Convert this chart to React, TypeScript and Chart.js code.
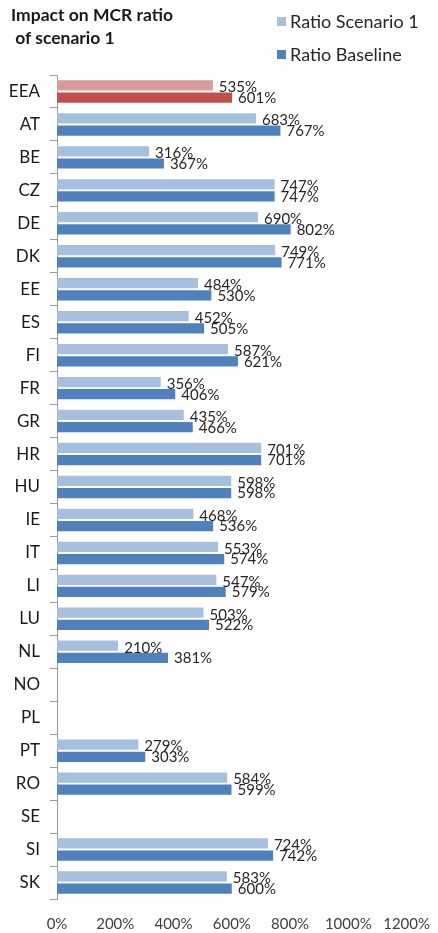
import React, { useEffect, useRef } from "react";
import { Chart, registerables } from "chart.js";

Chart.register(...registerables);

const categories = ["EEA", "AT", "BE", "CZ", "DE", "DK", "EE", "ES", "FI", "FR", "GR", "HR", "HU", "IE", "IT", "LI", "LU", "NL", "NO", "PL", "PT", "RO", "SE", "SI", "SK"];
const scenario1 = [535, 683, 316, 747, 690, 749, 484, 452, 587, 356, 435, 701, 598, 468, 553, 547, 503, 210, null, null, 279, 584, null, 724, 583];
const baseline = [601, 767, 367, 747, 802, 771, 530, 505, 621, 406, 466, 701, 598, 536, 574, 579, 522, 381, null, null, 303, 599, null, 742, 600];
const xTicks = [0, 200, 400, 600, 800, 1000, 1200];

const FONT = "Lato, 'Open Sans', sans-serif";
const LIGHT = "#a7bfde";
const DARK = "#4f81bd";
const LIGHT_RED = "#dc9a99";
const DARK_RED = "#c0504d";

const labelPlugin = {
  id: "valueLabels",
  afterDatasetsDraw(chart: any) {
    const ctx = chart.ctx;
    ctx.save();
    ctx.font = `15px ${FONT}`;
    ctx.fillStyle = "#262626";
    ctx.textAlign = "left";
    ctx.textBaseline = "middle";
    chart.data.datasets.forEach((ds: any, di: number) => {
      const meta = chart.getDatasetMeta(di);
      meta.data.forEach((bar: any, i: number) => {
        const v = ds.data[i];
        if (v === null || v === undefined) return;
        const yOff = di === 0 ? 2 : 0.5;
        ctx.fillText(`${v}%`, bar.x + 6, bar.y + yOff);
      });
    });
    ctx.restore();
  },
};

export default function App() {
  const ref = useRef<HTMLCanvasElement | null>(null);
  useEffect(() => {
    document.body.style.margin = "0";
    const c = ref.current!;
    const chart = new Chart(c, {
      type: "bar",
      data: {
        labels: categories,
        datasets: [
          {
            label: "Ratio Scenario 1",
            data: scenario1,
            backgroundColor: categories.map((_, i) => (i === 0 ? LIGHT_RED : LIGHT)),
            categoryPercentage: 0.74,
            barPercentage: 0.84,
          },
          {
            label: "Ratio Baseline",
            data: baseline,
            backgroundColor: categories.map((_, i) => (i === 0 ? DARK_RED : DARK)),
            categoryPercentage: 0.74,
            barPercentage: 0.84,
          },
        ],
      },
      options: {
        indexAxis: "y",
        animation: false,
        responsive: false,
        maintainAspectRatio: false,
        layout: { padding: { top: 75, right: 27, left: 0, bottom: 0 } },
        plugins: { legend: { display: false }, tooltip: { enabled: false }, title: { display: false } },
        scales: {
          x: {
            min: 0,
            max: 1200,
            afterBuildTicks: (axis: any) => {
              axis.ticks = xTicks.map((v) => ({ value: v }));
            },
            afterFit: (axis: any) => {
              axis.height = 34;
            },
            ticks: {
              callback: (v: any) => `${v}%`,
              font: { family: FONT, size: 15 },
              color: "#404040",
              padding: 8,
              maxRotation: 0,
            },
            grid: { display: false },
            border: { display: false },
          },
          y: {
            afterFit: (axis: any) => {
              axis.width = 57;
            },
            ticks: {
              font: { family: FONT, size: 17 },
              color: "#1a1a1a",
              padding: 10,
            },
            grid: {
              display: true,
              offset: true,
              drawOnChartArea: false,
              drawTicks: true,
              tickLength: 7,
              color: "#9a9a9a",
            },
            border: { display: true, color: "#9a9a9a", width: 1 },
          },
        },
      },
      plugins: [labelPlugin],
    });
    return () => chart.destroy();
  }, []);

  const legend = [
    { label: "Ratio Scenario 1", color: LIGHT, top: 10 },
    { label: "Ratio Baseline", color: DARK, top: 43 },
  ];

  return (
    <div style={{ position: "relative", width: 438, height: 933, background: "#fff", fontFamily: FONT }}>
      <canvas ref={ref} width={438} height={933} style={{ position: "absolute", left: 0, top: 0, width: 438, height: 933 }} />
      <div style={{ position: "absolute", left: 11, top: 3, fontWeight: 700, fontSize: 17.5, lineHeight: "23px", color: "#1a1a1a", whiteSpace: "pre" }}>
        {"Impact on MCR ratio\n of scenario 1"}
      </div>
      {legend.map((l) => (
        <div key={l.label} style={{ position: "absolute", left: 277, top: l.top, display: "flex", alignItems: "center", fontSize: 18, color: "#262626", whiteSpace: "nowrap" }}>
          <span style={{ display: "inline-block", width: 9, height: 9, background: l.color, marginRight: 4 }} />
          <span>{l.label}</span>
        </div>
      ))}
    </div>
  );
}
